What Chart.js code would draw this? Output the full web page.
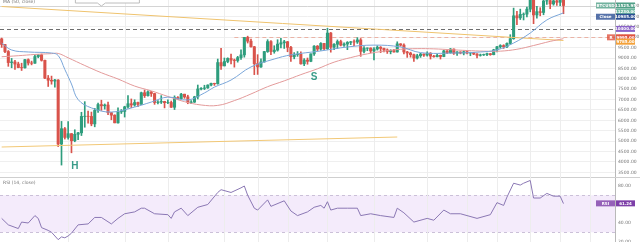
<!DOCTYPE html>
<html lang="en">
<head>
<meta charset="UTF-8">
<title>BTCUSD daily</title>
<script src="https://cdn.jsdelivr.net/npm/chart.js@4.4.0/dist/chart.umd.min.js"></script>
<style>
  html, body { margin: 0; padding: 0; background: #fff; }
  body { width: 640px; height: 242px; overflow: hidden; }
  canvas { display: block; }
</style>
</head>
<body>
<canvas id="price" width="640" height="177"></canvas>
<canvas id="rsi" width="640" height="65"></canvas>
<script>
// daily candles, Feb 24 - Aug 11 (2020), then empty space on the right
const dates = [
  'Feb 24','Feb 25','Feb 26','Feb 27','Feb 28','Feb 29',
  'Mar 1','Mar 2','Mar 3','Mar 4','Mar 5','Mar 6','Mar 7','Mar 8','Mar 9','Mar 10','Mar 11','Mar 12','Mar 13','Mar 14','Mar 15','Mar 16',
  'Mar 17','Mar 18','Mar 19','Mar 20','Mar 21','Mar 22','Mar 23','Mar 24','Mar 25','Mar 26','Mar 27','Mar 28','Mar 29','Mar 30','Mar 31',
  'Apr 1','Apr 2','Apr 3','Apr 4','Apr 5','Apr 6','Apr 7','Apr 8','Apr 9','Apr 10','Apr 11','Apr 12','Apr 13','Apr 14','Apr 15',
  'Apr 16','Apr 17','Apr 18','Apr 19','Apr 20','Apr 21','Apr 22','Apr 23','Apr 24','Apr 25','Apr 26','Apr 27','Apr 28','Apr 29','Apr 30',
  'May 1','May 2','May 3','May 4','May 5','May 6','May 7','May 8','May 9','May 10','May 11','May 12','May 13','May 14','May 15','May 16',
  'May 17','May 18','May 19','May 20','May 21','May 22','May 23','May 24','May 25','May 26','May 27','May 28','May 29','May 30','May 31',
  'Jun 1','Jun 2','Jun 3','Jun 4','Jun 5','Jun 6','Jun 7','Jun 8','Jun 9','Jun 10','Jun 11','Jun 12','Jun 13','Jun 14','Jun 15',
  'Jun 16','Jun 17','Jun 18','Jun 19','Jun 20','Jun 21','Jun 22','Jun 23','Jun 24','Jun 25','Jun 26','Jun 27','Jun 28','Jun 29','Jun 30',
  'Jul 1','Jul 2','Jul 3','Jul 4','Jul 5','Jul 6','Jul 7','Jul 8','Jul 9','Jul 10','Jul 11','Jul 12','Jul 13','Jul 14','Jul 15','Jul 16',
  'Jul 17','Jul 18','Jul 19','Jul 20','Jul 21','Jul 22','Jul 23','Jul 24','Jul 25','Jul 26','Jul 27','Jul 28','Jul 29','Jul 30','Jul 31',
  'Aug 1','Aug 2','Aug 3','Aug 4','Aug 5','Aug 6','Aug 7','Aug 8','Aug 9','Aug 10','Aug 11','Aug 12','Aug 13',
  'Aug 14','Aug 15','Aug 16','Aug 17','Aug 18','Aug 19','Aug 20','Aug 21','Aug 22','Aug 23','Aug 24','Aug 25','Aug 26'
];

const open = [
  9920, 9650, 9310, 8780, 8810, 8710,
  8540, 8530, 8920, 8760, 8750, 9070, 9150, 8890, 8030, 7930, 7890, 7940, 4860, 5600, 5180, 5360, 5020, 5330, 5400, 6190, 6200, 6190, 5830, 6480, 6760, 6700, 6740, 6370, 6250, 5880, 6410,
  6430, 6650, 6800, 6740, 6860, 6770, 7330, 7190, 7370, 7290, 6860, 6880, 6910, 6850, 6860, 6630, 7100, 7040, 7260, 7130, 6860, 6880, 7130, 7510, 7540, 7560, 7700, 7780, 7760, 8780,
  8620, 8830, 8980, 8900, 8880, 9020, 9150, 9990, 9810, 9540, 8730, 8570, 8810, 9310, 9790, 9310, 9380, 9670, 9730, 9780, 9510, 9060, 9170, 9180, 8720, 8900, 8840, 9200, 9570, 9430, 9700,
  9450, 10200, 9520, 9660, 9790, 9620, 9670, 9750, 9780, 9770, 9870, 9320, 9470, 9480, 9340, 9430, 9520, 9460, 9390, 9310, 9360, 9290, 9680, 9620, 9290, 9240, 9160, 9000, 9110, 9190,
  9140, 9230, 9090, 9060, 9130, 9070, 9340, 9250, 9430, 9230, 9290, 9240, 9300, 9240, 9250, 9190, 9130, 9150, 9170, 9210, 9160, 9390, 9540, 9600, 9540, 9700, 9930, 11030, 10930, 11100, 11110,
  11350, 11800, 11070, 11230, 11190, 11740, 11760, 11600, 11750, 11680, 11880
];
const high = [
  9960, 9660, 9360, 8980, 8890, 8800,
  8750, 8940, 8960, 8850, 9150, 9170, 9190, 8900, 8160, 8130, 7970, 7960, 5950, 5660, 5940, 5370, 5550, 5430, 6390, 6900, 6450, 6400, 6580, 6830, 6970, 6790, 6880, 6380, 6270, 6600, 6520,
  6680, 7190, 7030, 6990, 6880, 7360, 7460, 7420, 7390, 7300, 6950, 7190, 6920, 6990, 6930, 7180, 7150, 7300, 7260, 7210, 6950, 7160, 7700, 7580, 7690, 7710, 7790, 7790, 8950, 9460,
  9000, 9010, 9190, 8950, 9080, 9390, 9990, 10050, 9910, 9560, 9160, 8960, 9320, 9880, 9840, 9590, 9880, 9950, 9850, 9800, 9560, 9260, 9310, 9300, 8970, 9000, 9200, 9600, 9600, 9740, 9700,
  10430, 10230, 9690, 9870, 9860, 9730, 9790, 9800, 9880, 9980, 9940, 9550, 9490, 9490, 9500, 9590, 9550, 9480, 9440, 9400, 9420, 9780, 9690, 9680, 9320, 9280, 9190, 9180, 9230, 9200,
  9300, 9260, 9130, 9190, 9140, 9370, 9360, 9460, 9440, 9310, 9300, 9340, 9340, 9280, 9270, 9210, 9190, 9190, 9240, 9220, 9420, 9560, 9640, 9640, 9730, 10120, 11400, 11240, 11350, 11170, 11450,
  11860, 12090, 11480, 11420, 11790, 11900, 11920, 11800, 11800, 12070, 11930
];
const low = [
  9510, 9260, 8600, 8530, 8450, 8530,
  8400, 8510, 8660, 8670, 8740, 9010, 8850, 8000, 7630, 7740, 7600, 4740, 3850, 5100, 5100, 4440, 4970, 5070, 5270, 5670, 5860, 5740, 5690, 6380, 6480, 6540, 6270, 6030, 5880, 5860, 6330,
  6160, 6590, 6610, 6680, 6660, 6770, 7100, 7160, 7150, 6770, 6790, 6810, 6600, 6800, 6620, 6520, 7010, 7030, 7060, 6800, 6800, 6860, 7030, 7470, 7480, 7540, 7660, 7680, 7740, 8450,
  8620, 8770, 8710, 8560, 8800, 8930, 9040, 9720, 9520, 8200, 8210, 8550, 8800, 9270, 9160, 9230, 9330, 9480, 9460, 9300, 8830, 8960, 9080, 8700, 8630, 8700, 8820, 9120, 9340, 9370, 9400,
  9410, 9280, 9400, 9460, 9580, 9560, 9400, 9640, 9580, 9700, 9080, 9250, 9350, 9250, 8910, 9380, 9260, 9290, 9220, 9200, 9280, 9280, 9570, 9200, 9030, 9040, 8830, 8950, 9030, 9080,
  9090, 8950, 9040, 9050, 8950, 9060, 9210, 9230, 9170, 9120, 9200, 9150, 9200, 9110, 9160, 9000, 9090, 9120, 9110, 9130, 9150, 9290, 9470, 9460, 9500, 9650, 9900, 10600, 10850, 10830, 10980,
  11220, 10650, 10920, 11030, 11080, 11580, 11370, 11540, 11530, 11520, 11130
];
const close = [
  9650, 9310, 8780, 8810, 8710, 8540,
  8530, 8920, 8760, 8750, 9070, 9150, 8890, 8030, 7930, 7890, 7940, 4860, 5600, 5180, 5360, 5020, 5330, 5400, 6190, 6200, 6190, 5830, 6480, 6760, 6700, 6740, 6370, 6250, 5880, 6410, 6430,
  6650, 6800, 6740, 6860, 6770, 7330, 7190, 7370, 7290, 6860, 6880, 6910, 6850, 6860, 6630, 7100, 7040, 7260, 7130, 6860, 6880, 7130, 7510, 7540, 7560, 7700, 7780, 7760, 8780, 8620,
  8830, 8980, 8900, 8880, 9020, 9150, 9990, 9810, 9540, 8730, 8570, 8810, 9310, 9790, 9310, 9380, 9670, 9730, 9780, 9510, 9060, 9170, 9180, 8720, 8900, 8840, 9200, 9570, 9430, 9700, 9450,
  10200, 9520, 9660, 9790, 9620, 9670, 9750, 9780, 9770, 9870, 9320, 9470, 9480, 9340, 9430, 9520, 9460, 9390, 9310, 9360, 9290, 9680, 9620, 9290, 9240, 9160, 9000, 9110, 9190, 9140,
  9230, 9090, 9060, 9130, 9070, 9340, 9250, 9430, 9230, 9290, 9240, 9300, 9240, 9250, 9190, 9130, 9150, 9170, 9210, 9160, 9390, 9540, 9600, 9540, 9700, 9930, 11030, 10930, 11100, 11110, 11350,
  11800, 11070, 11230, 11190, 11740, 11760, 11600, 11750, 11680, 11880, 11525
];

// moving averages (day index -> value)
const fastMaDay = [0, 3, 8, 15, 17, 19, 21, 23, 27, 33, 40, 45, 50, 56, 61, 64, 69, 75, 82, 87, 96, 104, 112, 120, 126, 136, 144, 149, 154, 159, 164, 169];
const fastMa = [9720, 9385, 9290, 9240, 9120, 8450, 7750, 7000, 6600, 6400, 6640, 6880, 7120, 6980, 7320, 7600, 7940, 8570, 8950, 9150, 9340, 9530, 9620, 9530, 9260, 9240, 9290, 9390, 9720, 10200, 10830, 11170];
const ma50Day = [0, 5, 10, 15, 17, 20, 25, 30, 35, 40, 45, 50, 55, 60, 65, 70, 75, 80, 85, 90, 95, 100, 105, 110, 115, 120, 125, 130, 135, 140, 145, 150, 155, 160, 165, 169];
const ma50 = [9060, 9110, 9170, 9210, 9220, 9010, 8640, 8290, 7990, 7650, 7420, 7150, 6900, 6740, 6720, 6950, 7270, 7620, 7900, 8200, 8480, 8800, 9020, 9200, 9330, 9420, 9450, 9440, 9400, 9360, 9330, 9330, 9420, 9600, 9800, 9930];

// RSI(14)
const rsiDay = [0, 2, 5, 6, 8, 10, 11, 12, 14, 15, 17, 18, 19, 20, 21, 23, 26, 28, 30, 33, 35, 37, 40, 42, 43, 46, 50, 51, 52, 54, 56, 59, 62, 65, 66, 69, 72, 73, 74, 76,
  77, 80, 81, 85, 87, 89, 92, 94, 96, 97, 98, 99, 101, 104, 107, 108, 111, 114, 118, 119, 121, 124, 128, 130, 133, 135, 138, 143, 147, 149, 151, 152, 154, 156, 157, 159, 160, 162, 164, 166, 168, 169];
const rsi = [45, 38, 34, 41, 40, 48, 45, 35, 32, 30, 22, 25, 24, 26, 29, 38, 39, 46, 46, 39, 45, 50, 52, 56, 56, 50, 49, 45, 52, 56, 48, 57, 60, 73, 76, 73, 78, 80, 70, 56,
  54, 65, 58, 64, 53, 48, 52, 57, 59, 56, 63, 54, 56, 56, 56, 48, 50, 48, 46, 56, 51, 41, 45, 43, 54, 50, 50, 45, 49, 62, 59, 68, 83, 81, 83, 86, 67, 67, 72, 69, 69, 61];

const priceTicks = [3500, 4000, 4500, 5000, 5500, 6000, 6500, 7000, 7500, 8000, 8500, 9000, 9500, 10000, 10500, 11000, 11500];
const rsiTicks = [20, 40, 60, 80];
const gridDates = ['Mar 15', 'Apr 1', 'Apr 14', 'May 1', 'May 11', 'May 20', 'Jun 1', 'Jun 15', 'Jul 1', 'Jul 13', 'Jul 22', 'Aug 1', 'Aug 10', 'Aug 19'];

// trend lines: [start day, start price, end day, end price]
const upperTrend = ['Feb 24', 11477, 'Aug 11', 9842];
const lowerTrend = ['Feb 24', 4719, 'Jun 22', 5200];
const resistance = 10400;
const breakout = 10000;
const breakoutFrom = 'May 4';

// price tags on the right axis
const tagValues = [11525.95, 11230.00, 10985.00, 10400.00, 9995.00, 9785.00];
const tagColors = ['#4f9f86', '#6db8a0', '#2c4f93', '#8a63c8', '#e0533f', '#f3a13a'];
const tagSide = ['BTCUSD', '', 'Close', '', 'R', ''];
const rsiLast = 61.24;

const up = '#2e9d7d', down = '#d9534b';
const candleColor = c => close[c.dataIndex] >= open[c.dataIndex] ? up : down;
const pts = (days, vals) => days.map((d, k) => ({ x: typeof d === 'number' ? dates[d] : d, y: vals[k] }));

function drawTag(ctx, right, y, text, bg, side) {
    ctx.fillStyle = bg;
    ctx.fillRect(right + 1, y - 3, 19, 6);
    ctx.fillStyle = '#fff';
    ctx.font = 'bold 4px "DejaVu Sans"';
    ctx.textAlign = 'center';
    ctx.textBaseline = 'middle';
    ctx.fillText(text, right + 10.5, y + 0.3);
    if (side) {
        const w = side.length > 2 ? 19 : 8;
        ctx.fillStyle = bg;
        ctx.globalAlpha = 0.8;
        ctx.fillRect(right - w, y - 3, w, 6);
        ctx.globalAlpha = 1;
        ctx.fillStyle = '#fff';
        ctx.fillText(side, right - w / 2, y + 0.3);
    }
}

// axis labels drawn by hand so the plot area keeps the full canvas height
function drawAxisLabels(chart, ticks) {
    const { ctx, chartArea: a, scales: { y } } = chart;
    ctx.save();
    ctx.fillStyle = '#777';
    ctx.font = '4.5px "DejaVu Sans"';
    ctx.textAlign = 'left';
    ctx.textBaseline = 'middle';
    ticks.forEach(v => ctx.fillText(v.toFixed(2), a.right + 3, y.getPixelForValue(v)));
    ctx.restore();
}

const vGrid = {
    id: 'vGrid',
    beforeDatasetsDraw(chart) {
        const { ctx, chartArea: a, scales: { x } } = chart;
        ctx.save();
        ctx.strokeStyle = '#ededed';
        ctx.lineWidth = 1;
        gridDates.forEach(d => {
            const px = Math.round(x.getPixelForValue(dates.indexOf(d))) + 0.5;
            ctx.beginPath();
            ctx.moveTo(px, a.top);
            ctx.lineTo(px, a.bottom);
            ctx.stroke();
        });
        ctx.restore();
    }
};

const priceOverlay = {
    id: 'priceOverlay',
    beforeDatasetsDraw(chart) {
        const { ctx, chartArea: a, scales: { x, y } } = chart;
        ctx.save();
        // last price line
        let py = Math.round(y.getPixelForValue(close[close.length - 1])) + 0.5;
        ctx.strokeStyle = '#d4d4d4';
        ctx.beginPath(); ctx.moveTo(a.left, py); ctx.lineTo(a.right, py); ctx.stroke();
        // dashed levels
        ctx.setLineDash([4, 3]);
        py = Math.round(y.getPixelForValue(resistance)) + 0.5;
        ctx.strokeStyle = '#6e6e6e';
        ctx.beginPath(); ctx.moveTo(a.left, py); ctx.lineTo(a.right, py); ctx.stroke();
        py = Math.round(y.getPixelForValue(breakout)) + 0.5;
        ctx.strokeStyle = '#eab3a6';
        ctx.beginPath(); ctx.moveTo(x.getPixelForValue(dates.indexOf(breakoutFrom)), py); ctx.lineTo(a.right, py); ctx.stroke();
        ctx.restore();
    },
    afterDatasetsDraw(chart) {
        const { ctx, scales: { x, y } } = chart;
        ctx.save();
        ctx.fillStyle = '#3a9c89';
        ctx.font = 'bold 10px "Liberation Sans"';
        ctx.textAlign = 'center';
        ctx.textBaseline = 'middle';
        ctx.fillText('H', x.getPixelForValue(dates.indexOf('Mar 17')), y.getPixelForValue(3800));
        ctx.fillText('S', x.getPixelForValue(dates.indexOf('May 28')), y.getPixelForValue(8086));

        // callout bubble, mostly cut off by the top edge
        const tx = x.getPixelForValue(dates.indexOf('Mar 25')), ty = y.getPixelForValue(11500);
        ctx.fillStyle = '#fff';
        ctx.strokeStyle = '#bdbdbd';
        ctx.lineWidth = 1;
        ctx.beginPath();
        ctx.moveTo(tx - 26, -4);
        ctx.lineTo(tx - 26, ty - 3);
        ctx.lineTo(tx - 4, ty - 3);
        ctx.lineTo(tx, ty);
        ctx.lineTo(tx + 4, ty - 3);
        ctx.lineTo(tx + 38, ty - 3);
        ctx.lineTo(tx + 38, -4);
        ctx.fill();
        ctx.stroke();

        ctx.fillStyle = '#777';
        ctx.font = '4.5px "DejaVu Sans"';
        ctx.textAlign = 'left';
        ctx.fillText('MA (50, close)', 3, 2);
        ctx.restore();
    },
    afterDraw(chart) {
        drawAxisLabels(chart, priceTicks);
        const { ctx, chartArea: a, scales: { y } } = chart;
        ctx.save();
        tagValues.forEach((v, k) => drawTag(ctx, a.right, y.getPixelForValue(v), v.toFixed(2), tagColors[k], tagSide[k]));
        ctx.restore();
    }
};

new Chart(document.getElementById('price'), {
    type: 'bar',
    data: {
        labels: dates,
        datasets: [
            { type: 'line', data: pts(fastMaDay, fastMa), borderColor: '#7aa6d9', borderWidth: 1, pointRadius: 0, tension: 0.4, order: 0 },
            { type: 'line', data: pts(ma50Day, ma50), borderColor: '#e39a9a', borderWidth: 1, pointRadius: 0, tension: 0.4, order: 0 },
            { type: 'line', data: pts([upperTrend[0], upperTrend[2]], [upperTrend[1], upperTrend[3]]), borderColor: '#efc36e', borderWidth: 1, pointRadius: 0, order: 0 },
            { type: 'line', data: pts([lowerTrend[0], lowerTrend[2]], [lowerTrend[1], lowerTrend[3]]), borderColor: '#f2c876', borderWidth: 1, pointRadius: 0, order: 0 },
            { data: open.map((o, i) => [o, close[i]]), backgroundColor: candleColor, barThickness: 2.4, grouped: false, order: 1 },
            { data: low.map((l, i) => [l, high[i]]), backgroundColor: candleColor, barThickness: 1, grouped: false, order: 2 }
        ]
    },
    options: {
        responsive: false,
        animation: false,
        layout: { padding: 0 },
        plugins: { legend: { display: false }, tooltip: { enabled: false } },
        scales: {
            x: { display: false, offset: true },
            y: {
                position: 'right', min: 3276, max: 11790,
                afterBuildTicks: s => { s.ticks = priceTicks.map(v => ({ value: v })); },
                afterFit: s => { s.width = 25; },
                grid: { color: '#efefef', drawTicks: false },
                border: { color: '#b9b9b9' },
                ticks: { display: false }
            }
        }
    },
    plugins: [vGrid, priceOverlay]
});

const rsiOverlay = {
    id: 'rsiOverlay',
    beforeDatasetsDraw(chart) {
        const { ctx, chartArea: a, scales: { y } } = chart;
        const y70 = y.getPixelForValue(70), y30 = y.getPixelForValue(30);
        ctx.save();
        ctx.fillStyle = '#f4ebfb';
        ctx.fillRect(a.left, y70, a.right - a.left, y30 - y70);
        ctx.setLineDash([3, 3]);
        ctx.strokeStyle = '#cbc0d8';
        [y70, y30].forEach(py => {
            ctx.beginPath(); ctx.moveTo(a.left, Math.round(py) + 0.5); ctx.lineTo(a.right, Math.round(py) + 0.5); ctx.stroke();
        });
        ctx.setLineDash([]);
        ctx.strokeStyle = '#cfcfcf';
        ctx.beginPath(); ctx.moveTo(0, 0.5); ctx.lineTo(chart.width, 0.5); ctx.stroke();
        ctx.fillStyle = '#777';
        ctx.font = '4.5px "DejaVu Sans"';
        ctx.textBaseline = 'middle';
        ctx.fillText('RSI (14, close)', 3, 6);
        ctx.restore();
    },
    afterDraw(chart) {
        drawAxisLabels(chart, rsiTicks);
        const { ctx, chartArea: a, scales: { y } } = chart;
        ctx.save();
        drawTag(ctx, a.right, y.getPixelForValue(rsiLast), rsiLast.toFixed(2), '#7d3fa8', 'RSI');
        ctx.restore();
    }
};

new Chart(document.getElementById('rsi'), {
    type: 'line',
    data: {
        labels: dates,
        datasets: [{ data: pts(rsiDay, rsi), borderColor: '#8b78b4', borderWidth: 1, pointRadius: 0, tension: 0 }]
    },
    options: {
        responsive: false,
        animation: false,
        layout: { padding: 0 },
        plugins: { legend: { display: false }, tooltip: { enabled: false } },
        scales: {
            x: { display: false, offset: true },
            y: {
                position: 'right', min: 19.46, max: 89.73,
                afterBuildTicks: s => { s.ticks = rsiTicks.map(v => ({ value: v })); },
                afterFit: s => { s.width = 25; },
                grid: { display: false },
                border: { color: '#b9b9b9' },
                ticks: { display: false }
            }
        }
    },
    plugins: [rsiOverlay, vGrid]
});
</script>
</body>
</html>
